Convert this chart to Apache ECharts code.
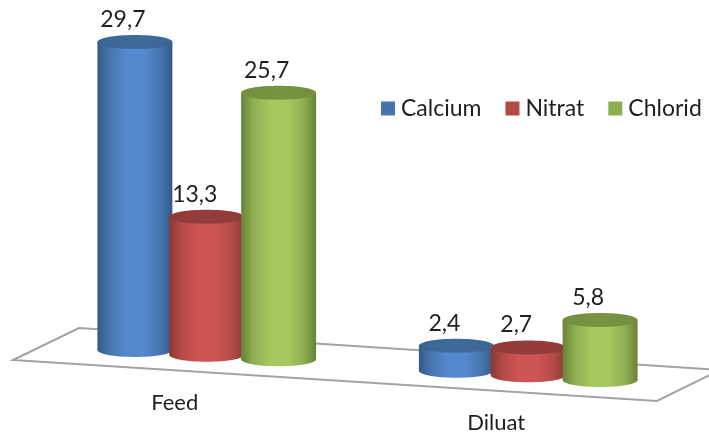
<!DOCTYPE html>
<html>
<head>
<meta charset="utf-8">
<style>html,body{margin:0;padding:0;background:#fff}#chart{width:709px;height:433px}</style>
<script src="https://cdn.jsdelivr.net/npm/echarts@6/dist/echarts.min.js"></script>
</head>
<body>
<div id="chart"></div>
<script>
// Ion concentrations per stream
const categories = ['Feed', 'Diluat'];
const seriesNames = ['Calcium', 'Nitrat', 'Chlorid'];
const calcium = [29.7, 2.4];
const nitrat = [13.3, 2.7];
const chlorid = [25.7, 5.8];

const fontFamily = 'Lato, "Noto Sans", sans-serif';
const textColor = '#1f1f1f';

// Horizontal shading of the cylinder walls and their caps: [edge, mid, centre]
const wallShades = [
  ['#325a89', '#4675ad', '#5589cd'],
  ['#8a3836', '#b34a48', '#ce5553'],
  ['#67833a', '#8dae50', '#a5c85f']
];
const capShades = [
  ['#3b6593', '#3f6a9c'],
  ['#913b3a', '#953d3c'],
  ['#738f3f', '#779440']
];

// The floor runs slightly downhill to the right
const FLOOR_SLOPE = 0.0645;
const SLOT = 0.2235;      // series spacing, as a share of the category band
const RADIUS = 0.1166;    // cylinder radius, as a share of the category band
const CAP_RY = 7;

function shade(c) {
  return {
    type: 'linear', x: 0, y: 0, x2: 1, y2: 0,
    colorStops: [
      { offset: 0, color: c[0] },
      { offset: 0.16, color: c[1] },
      { offset: 0.38, color: c[2] },
      { offset: 0.62, color: c[2] },
      { offset: 0.84, color: c[1] },
      { offset: 1, color: c[0] }
    ]
  };
}

function floorY(params, x) {
  const cs = params.coordSys;
  return FLOOR_SLOPE * (x - (cs.x + cs.width / 2));
}

function cylinderSeries(name, values, idx) {
  return {
    name,
    type: 'custom',
    coordinateSystem: 'cartesian2d',
    itemStyle: { color: wallShades[idx][1] },
    encode: { x: 0, y: 1 },
    data: categories.map((c, i) => [c, values[i]]),
    renderItem(params, api) {
      const value = api.value(1);
      const origin = api.coord([api.value(0), 0]);
      const band = api.size([1, 0])[0];
      const h = api.size([0, value])[1];
      const rx = band * RADIUS;
      const cx = origin[0] + (idx - 1) * band * SLOT;
      const yBase = origin[1] + floorY(params, cx);
      const yTop = yBase - h;
      const wall = shade(wallShades[idx]);
      const caps = capShades[idx];
      return {
        type: 'group',
        children: [
          { type: 'ellipse', shape: { cx, cy: yBase, rx, ry: CAP_RY }, style: { fill: wall } },
          { type: 'rect', shape: { x: cx - rx, y: yTop, width: rx * 2, height: h }, style: { fill: wall } },
          {
            type: 'ellipse', shape: { cx, cy: yTop, rx, ry: CAP_RY },
            style: {
              fill: {
                type: 'linear', x: 0, y: 0, x2: 1, y2: 0,
                colorStops: [{ offset: 0, color: caps[0] }, { offset: 0.5, color: caps[1] }, { offset: 1, color: caps[0] }]
              }
            }
          },
          {
            type: 'text',
            style: {
              x: cx - 12, y: yTop - 22.5,
              text: String(value).replace('.', ','),
              fill: textColor, font: '23px ' + fontFamily,
              align: 'center', verticalAlign: 'middle'
            }
          }
        ]
      };
    }
  };
}

const floorSeries = {
  type: 'custom',
  coordinateSystem: 'cartesian2d',
  silent: true,
  z: 1,
  encode: { x: 0, y: 1 },
  data: [[categories[0], 0]],
  renderItem() {
    return {
      type: 'polygon',
      shape: { points: [[13, 360], [79, 328], [720, 370], [657, 401]] },
      style: { fill: '#fff', stroke: '#a3a3a3', lineWidth: 2 }
    };
  }
};

// Category names sit in front of the floor, left of their group
const categorySeries = {
  type: 'custom',
  coordinateSystem: 'cartesian2d',
  silent: true,
  z: 3,
  encode: { x: 0, y: 1 },
  data: categories.map(c => [c, 0]),
  renderItem(params, api) {
    const origin = api.coord([api.value(0), 0]);
    const x = origin[0] - 32;
    return {
      type: 'text',
      style: {
        x, y: origin[1] + floorY(params, x) + 50,
        text: categories[params.dataIndex],
        fill: textColor, font: '22px ' + fontFamily,
        align: 'center', verticalAlign: 'middle'
      }
    };
  }
};

const chart = echarts.init(document.getElementById('chart'), null, { renderer: 'canvas' });
chart.setOption({
  animation: false,
  backgroundColor: '#fff',
  grid: { left: 46, right: 20, top: 54, height: 311, containLabel: false },
  xAxis: {
    type: 'category', data: categories,
    axisLine: { show: false }, axisTick: { show: false }, axisLabel: { show: false }
  },
  yAxis: {
    type: 'value', min: 0, max: 30,
    axisLine: { show: false }, axisTick: { show: false }, axisLabel: { show: false }, splitLine: { show: false }
  },
  legend: {
    data: seriesNames,
    left: 376, top: 92,
    icon: 'rect', itemWidth: 14, itemHeight: 14, itemGap: 24,
    textStyle: { color: textColor, fontFamily, fontSize: 23, padding: [0, 0, 0, 1] }
  },
  series: [
    floorSeries,
    ...[calcium, nitrat, chlorid].map((v, i) => Object.assign(cylinderSeries(seriesNames[i], v, i), { z: 2 })),
    categorySeries
  ]
});
</script>
</body>
</html>
